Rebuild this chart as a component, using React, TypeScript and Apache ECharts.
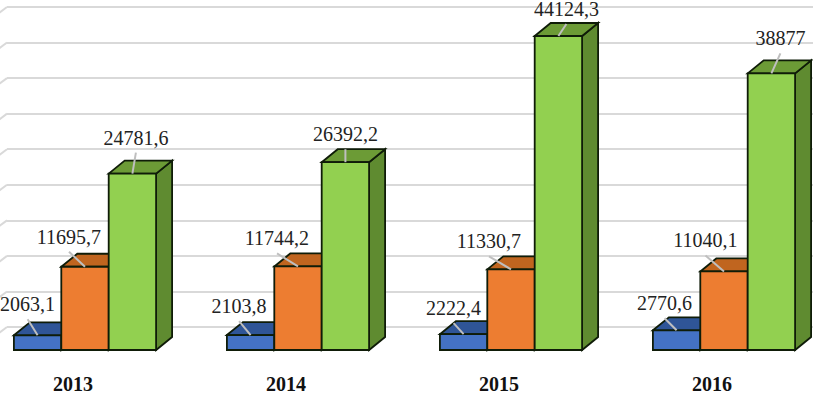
import React, { useEffect, useRef } from "react";
import * as echarts from "echarts";

const categories = ["2013", "2014", "2015", "2016"];
const blueValues = [2063.1, 2103.8, 2222.4, 2770.6];
const orangeValues = [11695.7, 11744.2, 11330.7, 11040.1];
const greenValues = [24781.6, 26392.2, 44124.3, 38877];
const wallTicks = [5000, 10000, 15000, 20000, 25000, 30000, 35000, 40000, 45000, 50000];

// Label centre relative to the bar's front-top-centre: [dx, dy]
const blueLabelOffsets = [[-10, -31], [-11.5, -29], [-10, -26], [-12, -27]];
const orangeLabelOffsets = [[-16, -30], [-21, -28], [-22, -28], [-18.5, -31]];
const greenLabelOffsets = [[3.5, -36], [0, -28], [8, -27], [9, -35]];

const BAR_W = 47.4;
const DX = 16;
const DY = 13;
const EDGE = "#0f1c08";
const FONT = '20px "Liberation Serif"';

const fmt = (v: number) => String(v).replace(".", ",");

function barSeries(
  values: number[],
  slot: number,
  front: string,
  topColor: string,
  sideColor: string,
  offsets: number[][],
) {
  return {
    type: "custom",
    xAxisIndex: 0,
    yAxisIndex: 0,
    clip: false,
    z: 5 + slot,
    data: values.map((v, i) => [i, v]),
    renderItem: (params: any, api: any) => {
      const i = api.value(0);
      const v = api.value(1);
      const [cx0, top] = api.coord([i, v]);
      const [, base] = api.coord([i, 0]);
      const left = cx0 + (slot - 1.5) * BAR_W;
      const right = left + BAR_W;
      const centre = left + BAR_W / 2;
      const [ox, oy] = offsets[params.dataIndex];
      const lx = centre + ox;
      const ly = top + oy;
      return {
        type: "group",
        children: [
          {
            type: "polygon",
            shape: { points: [[right, top], [right + DX, top - DY], [right + DX, base - DY], [right, base]] },
            style: { fill: sideColor, stroke: EDGE, lineWidth: 1.8 },
          },
          {
            type: "polygon",
            shape: { points: [[left, top], [left + DX, top - DY], [right + DX, top - DY], [right, top]] },
            style: { fill: topColor, stroke: EDGE, lineWidth: 1.8 },
          },
          {
            type: "rect",
            shape: { x: left, y: top, width: BAR_W, height: base - top },
            style: { fill: front, stroke: EDGE, lineWidth: 1.8 },
          },
          {
            type: "line",
            shape: { x1: centre, y1: top, x2: lx, y2: ly + 15 },
            style: { stroke: "#bfbfbf", lineWidth: 2 },
          },
          {
            type: "text",
            style: {
              text: fmt(v),
              x: lx,
              y: ly,
              align: "center",
              verticalAlign: "middle",
              font: FONT,
              fill: "#222222",
            },
          },
        ],
      };
    },
  };
}

export default function App() {
  const ref = useRef<HTMLDivElement>(null);
  useEffect(() => {
    const chart = echarts.init(ref.current!, undefined, { renderer: "svg" });
    chart.setOption({
      animation: false,
      backgroundColor: "#ffffff",
      grid: [
        { left: -21.5, width: 852, top: -5.8, height: 355.8, outerBoundsMode: "none" },
        { left: 7, right: 0, top: 7, height: 320, outerBoundsMode: "none" },
      ],
      xAxis: [
        {
          type: "category",
          gridIndex: 0,
          data: categories,
          axisLine: { show: false },
          axisTick: { show: false },
          axisLabel: {
            interval: 0,
            margin: 27,
            padding: [0, 24, 0, 0],
            fontFamily: "Liberation Serif",
            fontWeight: "bold",
            fontSize: 20,
            lineHeight: 14,
            color: "#111111",
          },
        },
        { type: "value", gridIndex: 1, min: 0, max: 1, show: false },
      ],
      yAxis: [
        { type: "value", gridIndex: 0, min: 0, max: 50000, show: false },
        {
          type: "value",
          gridIndex: 1,
          min: 5000,
          max: 50000,
          interval: 5000,
          axisLine: { show: false },
          axisTick: { show: false },
          axisLabel: { show: false },
          splitLine: { show: true, lineStyle: { color: "#d9d9d9", width: 2 } },
        },
      ],
      series: [
        {
          type: "custom",
          xAxisIndex: 1,
          yAxisIndex: 1,
          clip: false,
          z: 1,
          data: wallTicks.map((t) => [0, t]),
          renderItem: (_p: any, api: any) => {
            const [x, y] = api.coord([api.value(0), api.value(1)]);
            return {
              type: "line",
              shape: { x1: x, y1: y, x2: x - 8, y2: y + 6 },
              style: { stroke: "#d9d9d9", lineWidth: 2 },
            };
          },
        },
        barSeries(blueValues, 0, "#4472c4", "#2f5597", "#2f5597", blueLabelOffsets),
        barSeries(orangeValues, 1, "#ed7d31", "#c0651f", "#c0651f", orangeLabelOffsets),
        barSeries(greenValues, 2, "#92d050", "#6c9b36", "#5f8b30", greenLabelOffsets),
      ],
    });
    return () => chart.dispose();
  }, []);
  return (
    <div
      ref={ref}
      style={{ position: "absolute", left: 0, top: 0, width: 813, height: 394 }}
    />
  );
}
